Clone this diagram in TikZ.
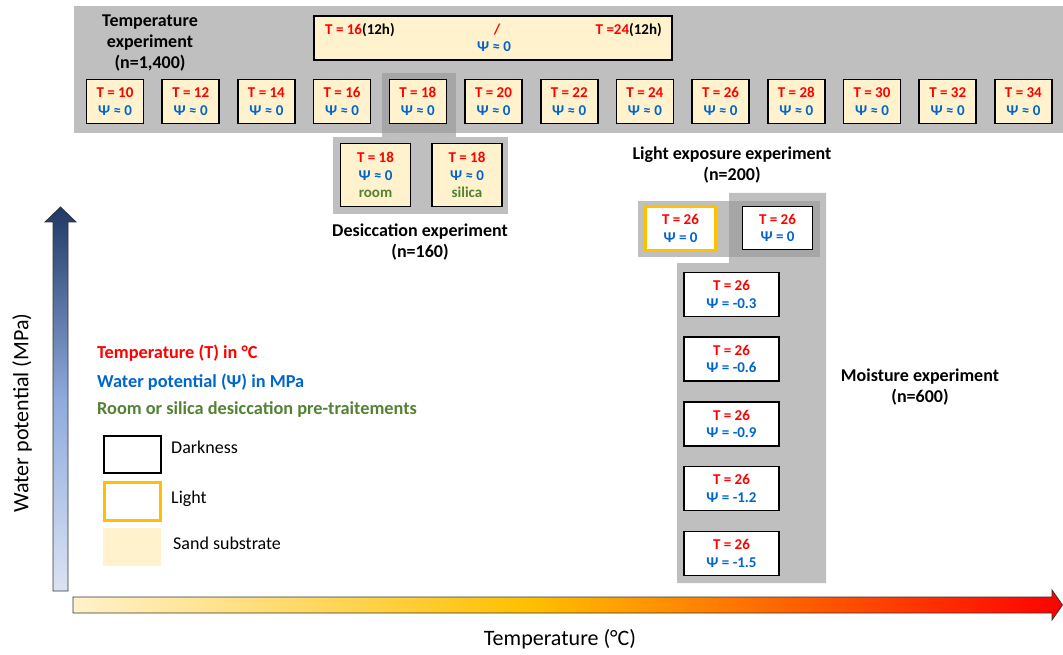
\documentclass[tikz,border=0pt]{standalone}
\usepackage{fontspec}
\setmainfont{Carlito}
\definecolor{sand}{HTML}{FFF2CC}
\definecolor{tred}{HTML}{FF0000}
\definecolor{wblue}{HTML}{0066CC}
\definecolor{dgreen}{HTML}{548235}
\definecolor{lgray}{HTML}{BFBFBF}
\definecolor{dgray}{HTML}{A6A6A6}
\definecolor{gold}{HTML}{FFC000}
\definecolor{navy}{HTML}{203864}
\definecolor{midblue}{HTML}{8FAADC}
\definecolor{paleblue}{HTML}{DAE3F3}
\pgfdeclarehorizontalshading{tempshade}{100bp}{color(0bp)=(sand); color(25bp)=(sand); color(48bp)=(gold); color(75bp)=(tred); color(100bp)=(tred)}
\pgfdeclareverticalshading{wpshade}{100bp}{color(0bp)=(paleblue); color(25bp)=(paleblue); color(50bp)=(midblue); color(75bp)=(navy); color(100bp)=(navy)}
\newcommand{\tempT}[1]{\textcolor{tred}{#1}}
\newcommand{\wpot}[1]{\textcolor{wblue}{#1}}
\newcommand{\dgr}[1]{\textcolor{dgreen}{#1}}
\begin{document}
\begin{tikzpicture}[x=1pt,y=-1pt,
  boxtext/.style={align=center,inner sep=0pt,font=\bfseries\fontsize{15}{17.5}\selectfont},
  sandbox/.style={boxtext,draw=black,line width=1.6pt,fill=sand,minimum width=57pt,minimum height=44pt},
  darkbox/.style={boxtext,draw=black,line width=1.6pt,fill=white},
  lightbox/.style={boxtext,draw=gold,line width=3pt,fill=white},
  title/.style={align=center,inner sep=0pt,font=\bfseries\fontsize{18}{21}\selectfont},
  legtext/.style={anchor=west,inner sep=0pt,font=\bfseries\fontsize{18.3}{20}\selectfont},
  legplain/.style={anchor=west,inner sep=0pt,font=\fontsize{18}{20}\selectfont},
  axislabel/.style={inner sep=0pt,font=\fontsize{22}{26}\selectfont}]
\useasboundingbox (0,0) rectangle (1063,655);
% group backgrounds
\fill[lgray] (74,6) rectangle (1063,133);
\fill[lgray] (382,73) rectangle (456,137);
\fill[dgray] (382,73) rectangle (456,133);
\fill[lgray] (333,137) rectangle (508,214);
\fill[lgray] (638,201) rectangle (820,257);
\fill[lgray] (729,193) -- (826,193) -- (826,583) -- (677,583) -- (677,263) -- (729,263) -- cycle;
\fill[dgray] (729,201) rectangle (820,257);
% temperature experiment
\node[title] (ttitle) at (150,43) {Temperature\\experiment\\(n=1,400)};
\node[draw=black,line width=1.6pt,fill=sand,minimum width=358pt,minimum height=44pt,inner sep=0pt] (hdr) at (493,38) {};
\node[boxtext,anchor=west] (hdrL) at (325,30) {\tempT{T = 16}(12h)};
\node[boxtext] (hdrS) at (497,30) {\tempT{/}};
\node[boxtext,anchor=east] (hdrR) at (662,30) {\tempT{T =24}(12h)};
\node[boxtext] (hdrP) at (494,47) {\wpot{Ψ ≈ 0}};
\foreach \t [count=\i from 0] in {10,12,...,34} {
  \node[sandbox] (t\t) at ({115+75.7*\i},101.5) {\tempT{T = \t}\\\wpot{Ψ ≈ 0}};
}
% desiccation
\node[sandbox,minimum width=70pt,minimum height=63pt] (droom) at (375.5,175) {\tempT{T = 18}\\\wpot{Ψ ≈ 0}\\\dgr{room}};
\node[sandbox,minimum width=70pt,minimum height=63pt] (dsil) at (467,175) {\tempT{T = 18}\\\wpot{Ψ ≈ 0}\\\dgr{silica}};
\node[title] (dtitle) at (420,242.5) {Desiccation experiment\\(n=160)};
% light exposure
\node[title] (ltitle) at (732,165) {Light exposure experiment\\(n=200)};
\node[lightbox,minimum width=70pt,minimum height=44pt] (llight) at (680.5,228.5) {\tempT{T = 26}\\\wpot{Ψ = 0}};
\node[darkbox,minimum width=70pt,minimum height=43pt] (ldark) at (777.5,228) {\tempT{T = 26}\\\wpot{Ψ = 0}};
% moisture
\foreach \p/\yy [count=\j] in {-0.3/294.5,-0.6/359,-0.9/424,-1.2/488.5,-1.5/553.5} {
  \node[darkbox,minimum width=95pt,minimum height=44pt] (m\j) at (731.5,\yy) {\tempT{T = 26}\\\wpot{Ψ = \p}};
}
\node[title] (mtitle) at (920,387) {Moisture experiment\\(n=600)};
% legend
\node[legtext] (legT) at (97,353) {\tempT{Temperature (T) in °C}};
\node[legtext] (legW) at (97,382) {\wpot{Water potential (Ψ) in MPa}};
\node[legtext] (legR) at (97,410) {\dgr{Room or silica desiccation pre-traitements}};
\draw[line width=1.6pt,fill=white] (104,436) rectangle (161,473);
\draw[gold,line width=3pt,fill=white] (104.5,482.5) rectangle (160.5,520.5);
\fill[sand] (103,528) rectangle (161,566);
\node[legplain] (legD) at (171,447) {Darkness};
\node[legplain] (legL) at (171,499) {Light};
\node[legplain] (legS) at (173,543) {Sand substrate};
% axes
\shade[shading=wpshade,draw=black!80,line width=0.8pt] (53,591) -- (68,591) -- (68,222) -- (76,222) -- (60.5,207) -- (45,222) -- (53,222) -- cycle;
\shade[shading=tempshade,draw=black!80,line width=0.8pt] (73,597) -- (1052,597) -- (1052,590) -- (1062.5,605) -- (1052,620) -- (1052,613) -- (73,613) -- cycle;
\node[axislabel,rotate=90] (ylab) at (22,413) {Water potential (MPa)};
\node[axislabel] (xlab) at (560,639) {Temperature (°C)};
\end{tikzpicture}
\end{document}
